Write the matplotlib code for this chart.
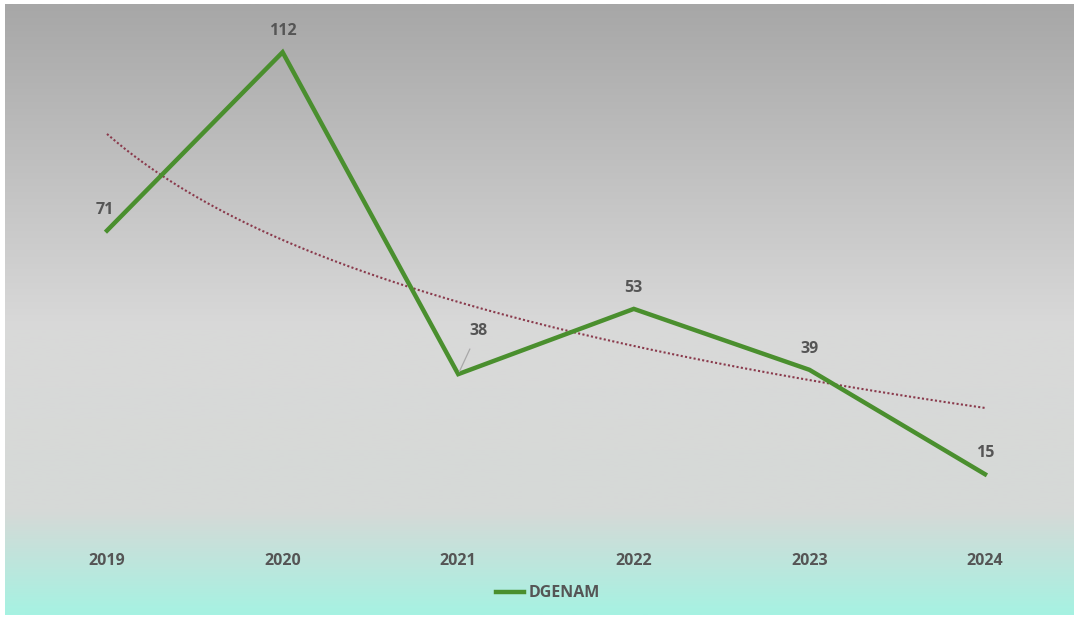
import matplotlib.pyplot as plt
import numpy as np
from matplotlib.colors import LinearSegmentedColormap
from matplotlib.lines import Line2D

years = [2019, 2020, 2021, 2022, 2023, 2024]
dgenam = [71, 112, 38, 53, 39, 15]
series_name = "DGENAM"

green = "#4a8f2e"
trend_col = "#8a3a4c"
txt_col = "#555555"
fnt = "Open Sans"

fig = plt.figure(figsize=(10.79, 6.18), dpi=100)
fig.patch.set_facecolor("white")

# background gradient panel
bg = fig.add_axes([5 / 1079, 3 / 618, 1069 / 1079, 611 / 618])
bg.axis("off")
cmap = LinearSegmentedColormap.from_list(
    "bg", [(0.0, "#a6f2e2"), (0.17, "#d6d9d7"), (0.47, "#d9d9d9"), (1.0, "#a7a7a7")])
grad = np.linspace(0, 1, 256).reshape(-1, 1)
bg.imshow(grad, aspect="auto", cmap=cmap, origin="lower", extent=[0, 1, 0, 1])
bg.set_xlim(0, 1)
bg.set_ylim(0, 1)

ax = fig.add_axes([0, 0, 1, 1])
ax.patch.set_alpha(0)
for s in ax.spines.values():
    s.set_visible(False)
ax.set_xticks([])
ax.set_yticks([])

x = np.arange(1, len(years) + 1)
ax.plot(x, dgenam, color=green, lw=3.2, solid_joinstyle="miter", zorder=3)

# logarithmic trendline
b, a = np.polyfit(np.log(x), dgenam, 1)
xt = np.linspace(1, len(years), 200)
ax.plot(xt, a + b * np.log(xt), color=trend_col, lw=1.5, ls=(0, (1, 1.1)), zorder=2)

ax.set_xlim(1 - 107 / 175.6, 1 + 972 / 175.6)
ax.set_ylim(-18.05, 124.0)

for i, (xi, v) in enumerate(zip(x, dgenam)):
    if v == 38:
        ax.annotate(str(v), xy=(xi, v), xytext=(xi + 0.115, v + 10.0),
                    ha="center", va="center", fontsize=11.5, fontweight="bold",
                    color=txt_col, family=fnt,
                    arrowprops=dict(arrowstyle="-", color="#a8a8a8", lw=0.9,
                                    shrinkA=6, shrinkB=2))
    else:
        dx = -0.01 if i == 0 else 0
        ax.text(xi + dx, v + 4.8, str(v), ha="center", va="center", fontsize=11.5,
                fontweight="bold", color=txt_col, family=fnt)

for xi, yr in zip(x, years):
    ax.text(xi, -5.0, str(yr), ha="center", va="center", fontsize=11.5,
            fontweight="bold", color=txt_col, family=fnt)

h = Line2D([], [], color=green, lw=3.2)
leg = ax.legend([h], [series_name], loc="center", bbox_to_anchor=(0.508, 0.04),
                frameon=False, handlelength=1.7, handletextpad=0.3,
                prop={"family": fnt, "weight": "bold", "size": 11.5})
for t in leg.get_texts():
    t.set_color(txt_col)

fig.savefig("out.png", dpi=100)
